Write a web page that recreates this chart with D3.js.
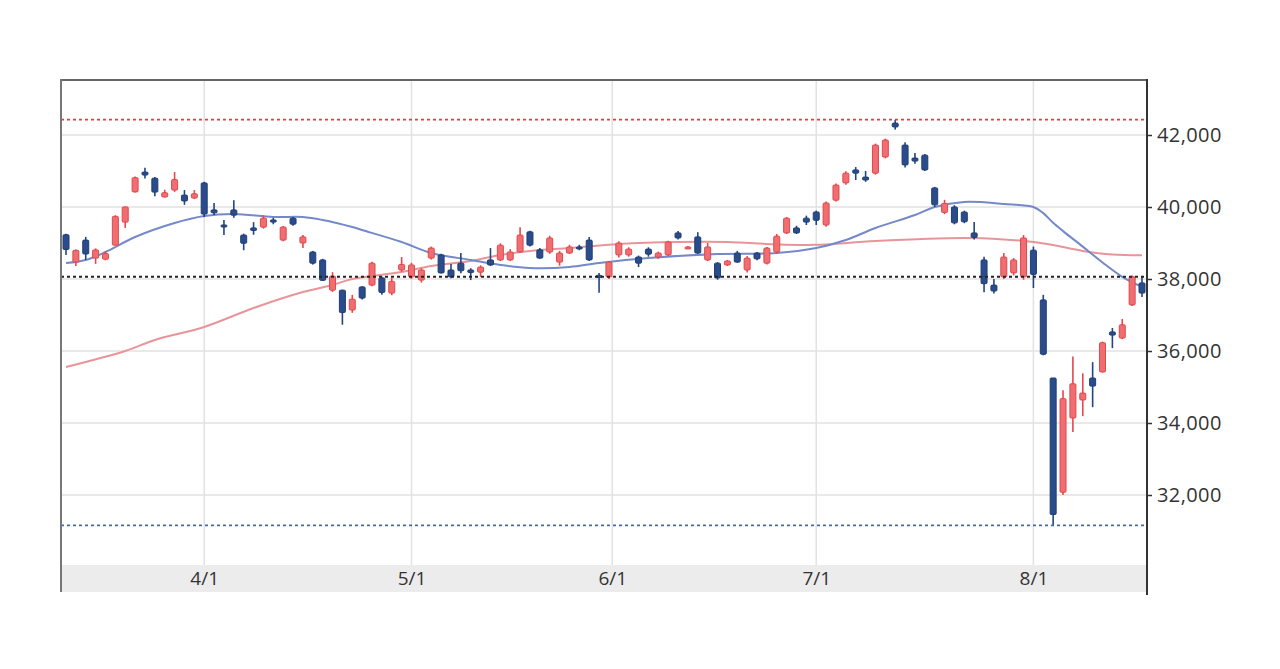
<!DOCTYPE html>
<html>
<head>
<meta charset="utf-8">
<script src="https://cdn.jsdelivr.net/npm/d3@7"></script>
<style>
  html, body { margin: 0; padding: 0; background: #fff; }
  svg { display: block; }
  .tick text { font-family: "Open Sans", "Noto Sans", sans-serif; fill: #333; }
</style>
</head>
<body>
<svg id="chart" width="1280" height="669"></svg>
<script>
// trading days, Mar 11 - Aug 19 2024
const dates = [
  "2024-03-11","2024-03-12","2024-03-13","2024-03-14","2024-03-15","2024-03-18","2024-03-19","2024-03-21","2024-03-22","2024-03-25",
  "2024-03-26","2024-03-27","2024-03-28","2024-03-29","2024-04-01","2024-04-02","2024-04-03","2024-04-04","2024-04-05","2024-04-08",
  "2024-04-09","2024-04-10","2024-04-11","2024-04-12","2024-04-15","2024-04-16","2024-04-17","2024-04-18","2024-04-19","2024-04-22",
  "2024-04-23","2024-04-24","2024-04-25","2024-04-26","2024-04-30","2024-05-01","2024-05-02","2024-05-07","2024-05-08","2024-05-09",
  "2024-05-10","2024-05-13","2024-05-14","2024-05-15","2024-05-16","2024-05-17","2024-05-20","2024-05-21","2024-05-22","2024-05-23",
  "2024-05-24","2024-05-27","2024-05-28","2024-05-29","2024-05-30","2024-05-31","2024-06-03","2024-06-04","2024-06-05","2024-06-06",
  "2024-06-07","2024-06-10","2024-06-11","2024-06-12","2024-06-13","2024-06-14","2024-06-17","2024-06-18","2024-06-19","2024-06-20",
  "2024-06-21","2024-06-24","2024-06-25","2024-06-26","2024-06-27","2024-06-28","2024-07-01","2024-07-02","2024-07-03","2024-07-04",
  "2024-07-05","2024-07-08","2024-07-09","2024-07-10","2024-07-11","2024-07-12","2024-07-16","2024-07-17","2024-07-18","2024-07-19",
  "2024-07-22","2024-07-23","2024-07-24","2024-07-25","2024-07-26","2024-07-29","2024-07-30","2024-07-31","2024-08-01","2024-08-02",
  "2024-08-05","2024-08-06","2024-08-07","2024-08-08","2024-08-09","2024-08-13","2024-08-14","2024-08-15","2024-08-16","2024-08-19"
];

const open = [
  39230,38470,39080,38580,38550,38940,39580,40420,40970,40800,
  40280,40470,40330,40250,40670,39920,39500,39920,39220,39420,
  39440,39640,39080,39690,39000,38750,38530,37690,37690,37140,
  37780,37830,38030,37610,38250,38060,37970,38580,38670,38250,
  38440,38250,38190,38530,38530,38530,38750,39310,38810,38750,
  38470,38720,38890,39080,38100,38060,38670,38670,38610,38830,
  38610,38670,39280,38860,39170,38530,38440,38390,38720,38250,
  38720,38440,38750,39280,39420,39690,39860,39500,40190,40670,
  41030,40830,40940,41390,42330,41720,41360,41440,40530,39850,
  40000,39860,39280,38530,37830,38060,38170,38060,38800,37420,
  35250,32077,34140,34640,35250,35420,36530,36360,37280,37890
];
const high = [
  39260,38820,39170,38850,38770,39770,40010,40850,41090,40830,
  40480,40970,40470,40470,40700,40110,39640,40190,39260,39580,
  39770,39700,39470,39720,39220,38780,38560,38190,37700,37560,
  37800,38480,38060,38030,38610,38450,38300,38900,38700,38420,
  38720,38300,38380,38860,38990,38830,39440,39340,38860,39200,
  38780,38950,38950,39170,38170,38500,39050,38880,38650,38880,
  38760,39060,39330,38920,39300,39000,38470,38530,38780,38640,
  38750,38890,39250,39720,39480,39760,39900,40150,40650,40990,
  41110,41000,41760,41900,42426,41800,41500,41470,40560,40200,
  40050,39900,39580,38620,38000,38720,38580,39220,38900,37560,
  35250,34911,35850,35380,35690,36260,36640,36890,38100,38060
];
const low = [
  38670,38360,38530,38420,38520,38940,39420,40400,40790,40300,
  40260,40420,40060,40220,39720,39780,39220,39700,38800,39230,
  39400,39520,39050,39480,38860,38400,37950,37640,36730,37060,
  37430,37800,37560,37550,38200,38000,37900,38540,38150,38020,
  38160,37970,38060,38360,38500,38500,38730,38900,38560,38700,
  38370,38700,38800,38500,37620,38000,38600,38620,38330,38620,
  38560,38640,39100,38830,38700,38500,37980,38360,38450,38180,
  38520,38400,38700,39250,39250,39500,39500,39450,40150,40620,
  40750,40700,40900,41350,42150,41100,41200,41000,40000,39800,
  39520,39550,39100,37630,37600,38000,38100,37980,37750,35880,
  31156,32000,33750,34190,34440,35400,36080,36330,37250,37500
];
const close = [
  38820,38797,38695,38807,38707,39740,40003,40815,40888,40414,
  40398,40762,40168,40369,39803,39838,39451,39773,38992,39347,
  39690,39581,39442,39523,39170,38440,37962,38079,37068,37438,
  37470,38440,37628,37934,38405,38390,38250,38860,38170,38060,
  38229,38179,38330,38390,38940,38750,39220,38940,38580,39140,
  38720,38890,38855,38530,38054,38470,39000,38830,38440,38690,
  38720,39030,39140,38890,38720,38890,38030,38500,38470,38580,
  38560,38860,39190,39690,39280,39580,39630,40110,40610,40940,
  40940,40750,41720,41860,42224,41170,41275,41030,40060,40100,
  39560,39590,39154,37870,37667,38610,38530,39140,38126,35909,
  31458,34675,35089,34831,35025,36232,36442,36726,38062,37610
];

// moving averages (candle index -> value)
const ma25Idx = [0,2,4,7,11,14,17,21,24,26,29,30,34,37,41,44,47,51,54,59,66,72,76,79,82,86,88,91,95,98,99,100,101,103,105,107,109];
const ma25 = [38444,38528,38750,39167,39556,39750,39806,39722,39722,39639,39444,39361,39028,38722,38528,38389,38306,38333,38444,38583,38694,38722,38861,39083,39417,39778,40000,40139,40083,40000,39830,39560,39330,38900,38460,38060,37780];
const ma75Idx = [0,6,9,14,19,24,27,29,34,37,41,44,47,51,56,62,67,72,76,82,91,95,98,100,103,106,109];
const ma75 = [35556,36000,36306,36667,37194,37639,37833,38000,38194,38361,38500,38667,38778,38861,38972,39028,39028,38960,38950,39056,39139,39100,39030,38944,38780,38680,38660];

// high, previous close, low reference levels
const refLevels = [42426, 38062, 31156];

const yTicks = [32000, 34000, 36000, 38000, 40000, 42000];
const monthStarts = ["2024-04-01","2024-05-01","2024-06-01","2024-07-01","2024-08-01"];
const monthLabels = ["4/1","5/1","6/1","7/1","8/1"];

const svg = d3.select("#chart");
const plot = { left: 61, right: 1147, top: 80, bottom: 565, band: 592 };

const x = d3.scaleLinear().domain([0, dates.length - 1]).range([66, 1142]);
const y = d3.scaleLinear().domain([30000, 44000]).range([567, 63]);

const parse = d3.timeParse("%Y-%m-%d");
const days = dates.map(parse);

// fractional candle index for a calendar date (weekends interpolate)
function dateIndex(s){
  const t = parse(s);
  const j = days.findIndex(d => d >= t);
  if (j <= 0) return Math.max(j, 0);
  const a = days[j - 1], b = days[j];
  return j - 1 + (t - a) / (b - a);
}
const monthIdx = monthStarts.map(dateIndex);

svg.append("defs").append("clipPath").attr("id", "clip")
  .append("rect")
  .attr("x", plot.left).attr("y", plot.top)
  .attr("width", plot.right - plot.left).attr("height", plot.bottom - plot.top);

// x label band
svg.append("rect")
  .attr("x", plot.left).attr("y", plot.bottom)
  .attr("width", plot.right - plot.left).attr("height", plot.band - plot.bottom)
  .attr("fill", "#ececec");

// gridlines
svg.append("g").selectAll("line").data(yTicks).join("line")
  .attr("x1", plot.left).attr("x2", plot.right)
  .attr("y1", d => y(d)).attr("y2", d => y(d))
  .attr("stroke", "#e2e2e2").attr("stroke-width", 1.5);

svg.append("g").selectAll("line").data(monthIdx).join("line")
  .attr("x1", d => x(d)).attr("x2", d => x(d))
  .attr("y1", plot.top).attr("y2", plot.bottom)
  .attr("stroke", "#e2e2e2").attr("stroke-width", 1.5);

const g = svg.append("g").attr("clip-path", "url(#clip)");

// moving averages
const maLine = d3.line().x(d => x(d[0])).y(d => y(d[1])).curve(d3.curveCatmullRom.alpha(0.5));
g.append("path")
  .datum(d3.zip(ma75Idx, ma75))
  .attr("d", maLine).attr("fill", "none")
  .attr("stroke", "#e8959a").attr("stroke-width", 2);
g.append("path")
  .datum(d3.zip(ma25Idx, ma25))
  .attr("d", maLine).attr("fill", "none")
  .attr("stroke", "#7489c9").attr("stroke-width", 2);

// candles
const candles = d3.range(dates.length).map(i => ({
  i, o: open[i], h: high[i], l: low[i], c: close[i], up: close[i] >= open[i]
}));
const cg = g.append("g").selectAll("g").data(candles).join("g");
cg.append("line")
  .attr("x1", d => x(d.i)).attr("x2", d => x(d.i))
  .attr("y1", d => y(d.h)).attr("y2", d => y(d.l))
  .attr("stroke", d => d.up ? "#e5474d" : "#23457f")
  .attr("stroke-width", 1.6);
cg.append("rect")
  .attr("x", d => x(d.i) - 3)
  .attr("y", d => y(Math.max(d.o, d.c)))
  .attr("width", 6)
  .attr("height", d => Math.max(2, Math.abs(y(d.o) - y(d.c))))
  .attr("rx", 1)
  .attr("fill", d => d.up ? "#ee6e72" : "#2a4c8a")
  .attr("stroke", d => d.up ? "#e2474c" : "#1f3e76")
  .attr("stroke-width", 1);

// reference levels
const refColors = ["#e23d3d", "#222", "#4868a6"];
g.append("g").selectAll("line").data(refLevels).join("line")
  .attr("x1", plot.left).attr("x2", plot.right)
  .attr("y1", d => y(d)).attr("y2", d => y(d))
  .attr("stroke", (d, k) => refColors[k])
  .attr("stroke-width", (d, k) => k === 1 ? 2.2 : 1.8)
  .attr("stroke-dasharray", "3,3");

// frame
svg.append("line")
  .attr("x1", plot.left).attr("x2", plot.right)
  .attr("y1", plot.top).attr("y2", plot.top)
  .attr("stroke", "#666").attr("stroke-width", 2);
svg.append("line")
  .attr("x1", plot.left).attr("x2", plot.left)
  .attr("y1", plot.top - 1).attr("y2", plot.band)
  .attr("stroke", "#777").attr("stroke-width", 2);
svg.append("line")
  .attr("x1", plot.right).attr("x2", plot.right)
  .attr("y1", plot.top - 1).attr("y2", plot.band + 3)
  .attr("stroke", "#333").attr("stroke-width", 2);

// price axis
svg.append("g")
  .attr("transform", `translate(${plot.right},0)`)
  .call(d3.axisRight(y).tickValues(yTicks).tickFormat(d3.format(",")).tickSize(5).tickPadding(5))
  .call(a => a.select(".domain").remove())
  .call(a => a.selectAll(".tick line").attr("stroke", "#333").attr("stroke-width", 1.5))
  .call(a => a.selectAll(".tick text").attr("font-size", 20).style("letter-spacing", "0.4px"));

// date axis
svg.append("g")
  .attr("transform", `translate(0,${plot.bottom})`)
  .call(d3.axisBottom(x).tickValues(monthIdx).tickFormat((d, k) => monthLabels[k]).tickSize(0).tickPadding(6))
  .call(a => a.select(".domain").remove())
  .call(a => a.selectAll(".tick text").attr("font-size", 19));
</script>
</body>
</html>
